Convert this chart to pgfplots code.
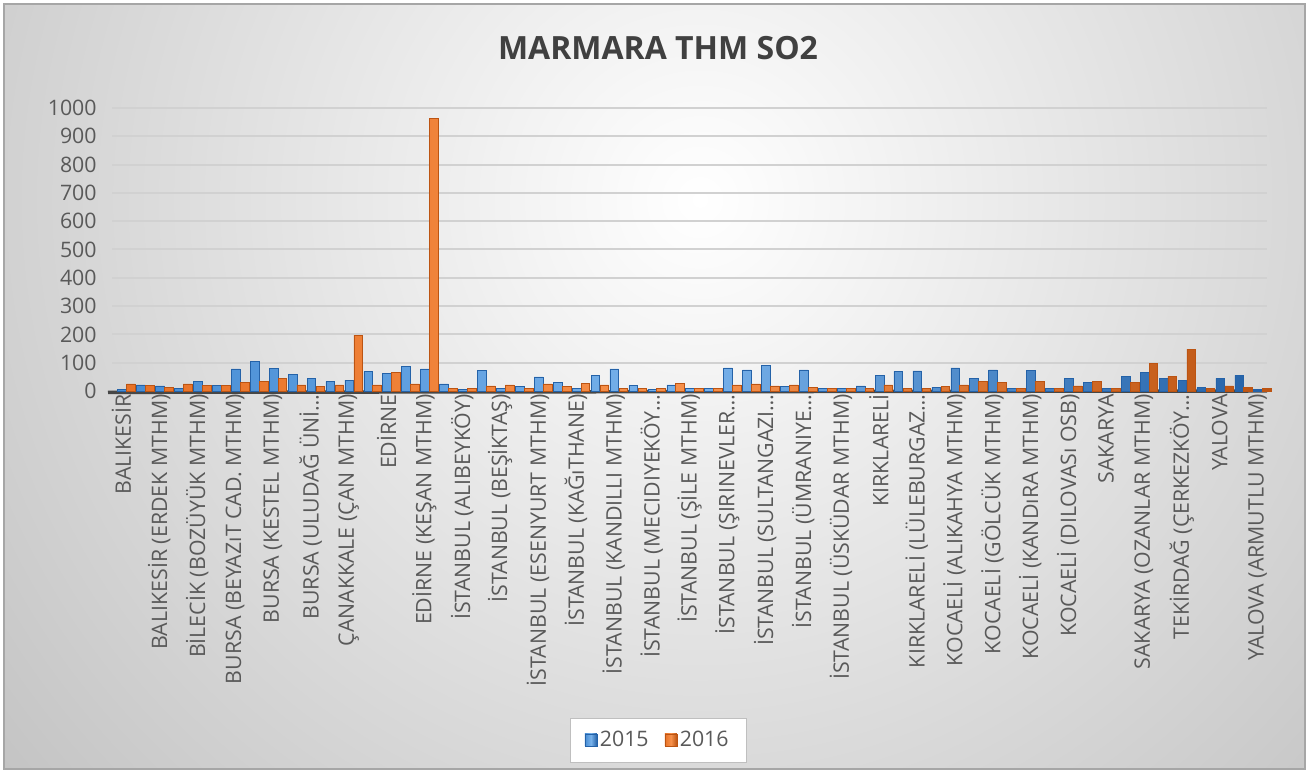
\documentclass[border=0pt]{standalone}
\usepackage{fontspec}
\setmainfont{Open Sans}
\usepackage{pgfplots}
\usepackage{pgfplotstable}
\pgfplotsset{compat=1.18}

\definecolor{blueL}{RGB}{120,178,235}
\definecolor{blueM}{RGB}{70,140,212}
\definecolor{blueD}{RGB}{36,98,168}
\definecolor{orL}{RGB}{247,145,75}
\definecolor{orM}{RGB}{232,114,38}
\definecolor{orD}{RGB}{188,84,18}
\definecolor{txt}{RGB}{89,89,89}
\definecolor{ttl}{RGB}{64,64,64}

% x = category index, y15 = 2015, y16 = 2016
\pgfplotstableread{
x y15 y16
0 5 25
1 22 20
2 18 12
3 10 25
4 33 20
5 20 20
6 78 30
7 105 35
8 80 45
9 58 22
10 45 15
11 33 22
12 38 197
13 68 22
14 62 65
15 88 25
16 78 962
17 25 10
18 7 8
19 72 18
20 8 22
21 15 10
22 50 25
23 30 15
24 8 28
25 55 22
26 78 10
27 20 10
28 7 10
29 22 28
30 8 8
31 8 8
32 82 22
33 75 25
34 90 18
35 17 22
36 75 12
37 8 8
38 8 8
39 18 10
40 56 22
41 69 9
42 71 8
43 13 15
44 82 22
45 44 33
46 75 31
47 8 8
48 74 34
49 8 8
50 45 18
51 30 33
52 8 8
53 52 30
54 65 98
55 45 52
56 38 148
57 12 10
58 45 18
59 55 12
60 6 8
}\so

\newcommand\lbl{\fontsize{16}{19}\selectfont}

\begin{document}
\begin{tikzpicture}
% chart area background
\fill[white] (0,0) rectangle (981.75pt,579.75pt);
\begin{scope}
\clip (3pt,3pt) rectangle (978.75pt,576.75pt);
\fill[black!24] (3pt,3pt) rectangle (978.75pt,576.75pt);
\shade[inner color=white, outer color=black!24] (525pt,430pt) circle (700pt);
\end{scope}
\draw[black!35, line width=1pt] (3pt,3pt) rectangle (978.75pt,576.75pt);

\node[font=\fontsize{24}{28}\selectfont\bfseries, text=ttl] at (493.5pt,543.75pt) {MARMARA THM SO2};

\begin{axis}[
    at={(84pt,286.5pt)}, anchor=south west,
    scale only axis, width=866.25pt, height=212.25pt,
    xmin=-0.5, xmax=60.5, ymin=0, ymax=1000,
    ytick={0,100,...,1000},
    scaled y ticks=false,
    /pgf/number format/1000 sep={},
    /pgf/number format/assume math mode=true,
    xtick={0,2,...,60},
    xticklabels={
        {BALIKESİR},
        {BALIKESİR (ERDEK MTHM)},
        {BİLECİK (BOZÜYÜK MTHM)},
        {BURSA (BEYAZıT CAD. MTHM)},
        {BURSA (KESTEL MTHM)},
        {BURSA (ULUDAĞ ÜNİ…},
        {ÇANAKKALE (ÇAN MTHM)},
        {EDİRNE},
        {EDİRNE (KEŞAN MTHM)},
        {İSTANBUL (ALIBEYKÖY)},
        {İSTANBUL (BEŞİKTAŞ)},
        {İSTANBUL (ESENYURT MTHM)},
        {İSTANBUL (KAĞıTHANE)},
        {İSTANBUL (KANDILLI MTHM)},
        {İSTANBUL (MECIDIYEKÖY…},
        {İSTANBUL (ŞİLE MTHM)},
        {İSTANBUL (ŞIRINEVLER…},
        {İSTANBUL (SULTANGAZI…},
        {İSTANBUL (ÜMRANIYE…},
        {İSTANBUL (ÜSKÜDAR MTHM)},
        {KIRKLARELİ},
        {KIRKLARELİ (LÜLEBURGAZ…},
        {KOCAELİ (ALIKAHYA MTHM)},
        {KOCAELİ (GÖLCÜK MTHM)},
        {KOCAELİ (KANDıRA MTHM)},
        {KOCAELİ (DILOVASı OSB)},
        {SAKARYA},
        {SAKARYA (OZANLAR MTHM)},
        {TEKİRDAĞ (ÇERKEZKÖY…},
        {YALOVA},
        {YALOVA (ARMUTLU MTHM)}},
    xticklabel style={rotate=90, anchor=east, font=\lbl, text=txt, xshift=1pt},
    yticklabel style={font=\lbl, text=txt, xshift=-8pt},
    ymajorgrids,
    grid style={black!18, line width=1.5pt},
    axis line style={draw=none},
    major tick length=0pt,
    ybar, bar width=0.46,
    clip=false,
    legend columns=2,
    legend style={at={(0.4727,-1.2332)}, anchor=center,
        draw=black!25, fill=white, font=\lbl, text=txt,
        inner xsep=11pt, inner ysep=8pt,
        /tikz/every even column/.append style={column sep=10pt}},
    legend image code/.code={\draw[#1] (0pt,-4.5pt) rectangle (9pt,4.5pt);},
]
\draw[line width=2.6pt, black!72] (rel axis cs:0,0) ++(-3pt,-1pt) -- (rel axis cs:1,0);
\addplot[bar shift=0.03, draw=blueD, line width=0.4pt,
    left color=blueM, right color=blueD, middle color=blueL]
    table[x=x, y=y15] {\so};
\addplot[bar shift=0.50, draw=orD, line width=0.4pt,
    left color=orM, right color=orD, middle color=orL]
    table[x=x, y=y16] {\so};
\legend{2015, 2016}
\end{axis}
\pgfresetboundingbox
\useasboundingbox (0,0) rectangle (981.75pt,579.75pt);
\end{tikzpicture}
\end{document}
